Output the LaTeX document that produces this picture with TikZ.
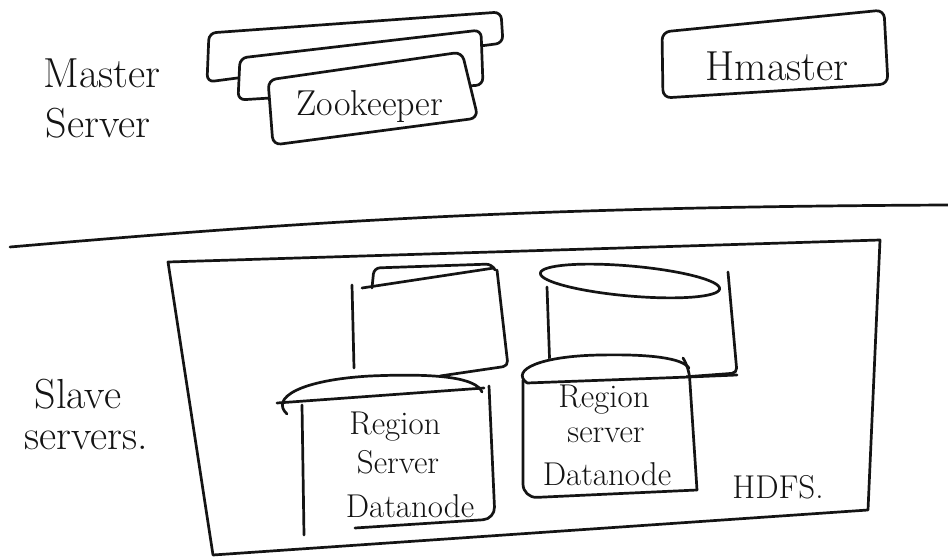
\documentclass[tikz,border=0pt]{standalone}
\begin{document}
\begin{tikzpicture}[x=1pt,y=-1pt,line cap=round,line join=round,
  ink/.style={draw=black!92,line width=2.7pt},
  lbl/.style={inner sep=0pt,text=black!92},
  big/.style={lbl,font=\fontsize{42}{46}\selectfont},
  mid/.style={lbl,font=\fontsize{36}{40}\selectfont},
  small/.style={lbl,font=\fontsize{33}{36}\selectfont}]
\useasboundingbox[fill=white] (0,0) rectangle (948,559);

% ---------- Master server ----------
\node[big] (master) at (102,73) {Master};
\node[big] (mserver) at (98,123) {Server};

% Zookeeper stack
\draw[ink,fill=white,rounded corners=7] (207,82) -- (209,33) -- (501,12) -- (503,43) -- cycle;
\draw[ink,fill=white,rounded corners=7] (238,100) -- (240,58) -- (481,30) -- (483,85) -- cycle;
\draw[ink,fill=white,rounded corners=8] (273,145) -- (268,80) -- (462,52) -- (478,118) -- cycle;
\node[mid] (zk) at (370,107) {Zookeeper};

% Hmaster
\draw[ink,rounded corners=8] (663,98) -- (662,32) -- (884,10) -- (888,84) -- cycle;
\node[big] (hmaster) at (777,66) {Hmaster};

% separator
\draw[ink] (10,247) .. controls (300,222) and (520,207) .. (948,205);

% ---------- Slave servers ----------
\node[big] (slave) at (78,394) {Slave};
\node[big] (sservers) at (86,440) {servers.};

% HDFS frame
\draw[ink] (168,262) -- (880,240) -- (868,510) -- (213,555) -- cycle;
\node[small] (hdfs) at (778,487) {HDFS.};

% back-left cylinder
\draw[ink] (352,285) -- (354,368);
\draw[ink,rounded corners=5] (497,270) -- (508,366) -- (440,376);
\draw[ink] (362,288) -- (494,268);
\draw[ink,rounded corners=6] (372,288) -- (374,268) -- (492,264) -- (495,270);

% back-right cylinder
\draw[ink] (547,287) -- (550,372);
\draw[ink,rounded corners=5] (728,272) -- (737,373) -- (683,377);
\draw[ink,rotate around={-5:(630,281)}] (630,281) ellipse [x radius=90,y radius=15];

% front-left cylinder
\fill[white] (302,400) -- (303,532) -- (492,519) -- (490,386) -- cycle;
\fill[white] (282,404) .. controls (300,372) and (470,366) .. (484,390) -- cycle;
\draw[ink] (302,405) -- (304,535);
\draw[ink,rounded corners=12] (489,386) -- (495,519) -- (355,528);
\draw[ink] (287,414) .. controls (270,398) and (300,380) .. (370,376)
                    .. controls (440,373) and (476,378) .. (482,392);
\draw[ink] (277,403) -- (484,388);
\node[small] (reg1) at (395,427) {Region};
\node[small] (srv1) at (398,462) {Server};
\node[small] (dn1) at (410,506) {Datanode};

% front-right cylinder
\fill[white] (523,376) -- (523,485) -- (545,500) -- (700,490) -- (685,368) -- cycle;
\fill[white] (524,380) .. controls (515,360) and (560,355) .. (600,355)
                 .. controls (650,355) and (685,358) .. (688,368) -- cycle;
\draw[ink,rounded corners=14] (523,380) -- (523,498) -- (697,490);
\draw[ink,rounded corners=10] (683,358) -- (689,368) -- (697,490);
\draw[ink] (527,383) .. controls (510,370) and (540,356) .. (600,355)
                 .. controls (650,354) and (682,358) .. (689,368);
\draw[ink] (527,383) -- (689,377) -- (737,375);
\node[small] (reg2) at (604,400) {Region};
\node[small] (srv2) at (606,435) {server};
\node[small] (dn2) at (607,474) {Datanode};
\end{tikzpicture}
\end{document}
